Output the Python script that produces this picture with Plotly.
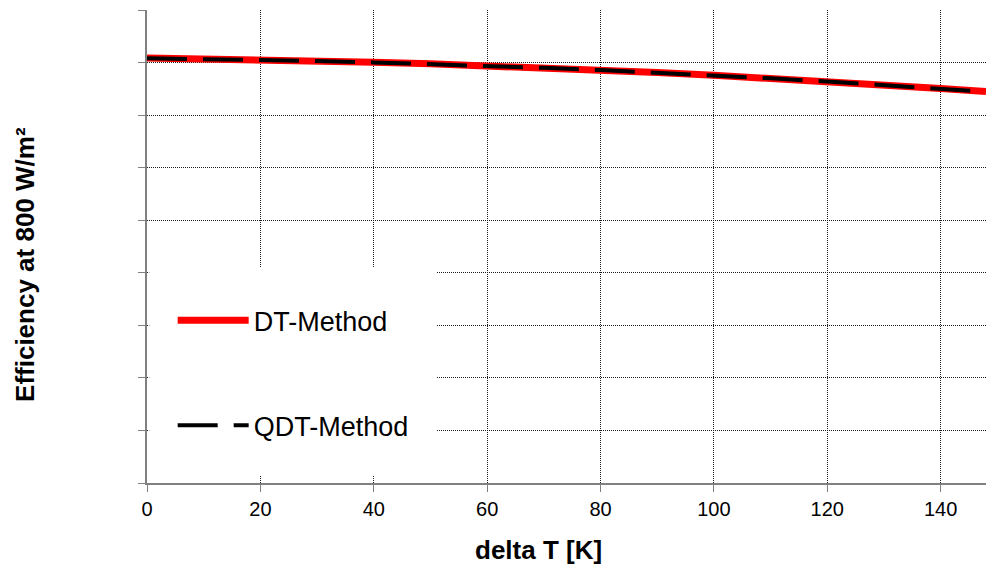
import plotly.graph_objects as go

# Data
delta_t = [0, 10, 20, 30, 40, 50, 60, 70, 80, 90, 100, 110, 120, 130, 140, 148]
eff_dt = [0.8085, 0.8071, 0.8053, 0.8031, 0.8005, 0.7975, 0.7940, 0.7901, 0.7858, 0.7810,
          0.7758, 0.7702, 0.7641, 0.7576, 0.7506, 0.7447]
eff_qdt = [0.8081, 0.8068, 0.8051, 0.8029, 0.8003, 0.7973, 0.7938, 0.7899, 0.7856, 0.7808,
           0.7756, 0.7700, 0.7639, 0.7573, 0.7503, 0.7444]
x_ticks = [0, 20, 40, 60, 80, 100, 120, 140]
y_grid = [0, 0.1, 0.2, 0.3, 0.4, 0.5, 0.6, 0.7, 0.8, 0.9]

FONT = "Liberation Sans, Arial, sans-serif"

fig = go.Figure()
fig.add_trace(go.Scatter(x=delta_t, y=eff_dt, mode="lines", name="DT-Method",
                         legendgroup="a",
                         line=dict(color="#ff0000", width=7)))
fig.add_trace(go.Scatter(x=delta_t, y=eff_qdt, mode="lines", name="QDT-Method",
                         legendgroup="b",
                         line=dict(color="#000000", width=4, dash="40px,16px")))

grid = dict(showgrid=True, gridcolor="#1a1a1a", gridwidth=1, griddash="1px,1px")

fig.update_xaxes(range=[0, 148], tickvals=x_ticks, ticks="outside", ticklen=7,
                 tickcolor="#808080", tickwidth=1, showline=True, linecolor="#808080",
                 linewidth=2, tickfont=dict(family=FONT, size=20, color="#000"),
                 zeroline=False, **grid)
fig.update_yaxes(range=[0, 0.9], tickvals=y_grid, ticks="outside", ticklen=7,
                 tickcolor="#808080", tickwidth=1, showline=True, linecolor="#808080",
                 linewidth=2, showticklabels=False, zeroline=False, **grid)

# white backing area behind the legend
fig.add_shape(type="rect", xref="x", yref="y", x0=0.4, x1=51.1, y0=0.0135, y1=0.41,
              fillcolor="white", line=dict(width=0), layer="above")

fig.add_annotation(text="<b>delta T [K]</b>", xref="paper", yref="paper",
                   x=0.467, y=-0.1416, xanchor="center", yanchor="middle",
                   showarrow=False, font=dict(family=FONT, size=26, color="#000"))
fig.add_annotation(text="<b>Efficiency at 800 W/m²</b>", xref="paper", yref="paper",
                   x=-0.1454, y=0.461, xanchor="center", yanchor="middle", textangle=-90,
                   showarrow=False, font=dict(family=FONT, size=26, color="#000"))

fig.update_layout(
    width=986, height=566,
    margin=dict(l=147, r=0, t=10, b=83),
    plot_bgcolor="white", paper_bgcolor="white",
    showlegend=True,
    legend=dict(x=0.0306, y=0.395, xanchor="left", yanchor="top",
                bgcolor="rgba(0,0,0,0)", borderwidth=0,
                font=dict(family=FONT, size=27, color="#000"),
                itemwidth=71, tracegroupgap=67, traceorder="grouped"),
)

fig.write_html("out.html")
